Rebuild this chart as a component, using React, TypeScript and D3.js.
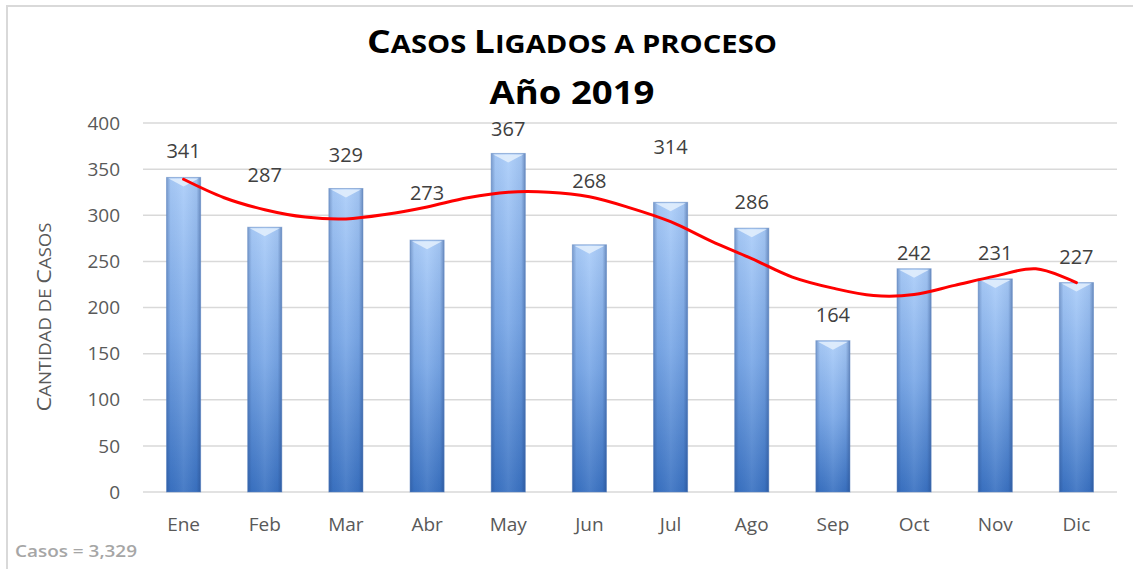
import React from "react";
import * as d3 from "d3";

const months = ["Ene", "Feb", "Mar", "Abr", "May", "Jun", "Jul", "Ago", "Sep", "Oct", "Nov", "Dic"];
const casos = [341, 287, 329, 273, 367, 268, 314, 286, 164, 242, 231, 227];
// trend line read at half-month steps (Ene, Ene½, Feb, ...)
const trend = [339, 319, 306, 298, 296, 301, 309, 319, 325, 325, 320, 308, 293, 272, 253, 233, 221, 213, 214, 224, 234, 242, 227];
const yTicks = [0, 50, 100, 150, 200, 250, 300, 350, 400];
const labelNudge = [0, -26, -7, -21, 2, -38, -29, 0, 0, 10, 0, 0];
const titleLine1 = "Casos Ligados a proceso";
const titleLine2 = "Año 2019";
const yTitle = "Cantidad de Casos";
const footer = "Casos = 3,329";

const W = 1133, H = 569;
const M = { left: 143, right: 1117, top: 123, bottom: 492 };

function smallCaps(s: string, big: number, small: number) {
  return s.split("").map((c, i) => {
    const isUpper = c !== " " && c === c.toUpperCase() && c !== c.toLowerCase();
    return (
      <tspan key={i} fontSize={isUpper ? big : small}>
        {c.toUpperCase()}
      </tspan>
    );
  });
}

export default function App() {
  const x = d3.scaleBand<string>().domain(months).range([M.left, M.right]).paddingInner(0.58).paddingOuter(0.29);
  const y = d3.scaleLinear().domain([0, 400]).range([M.bottom, M.top]);
  const xi = d3.scaleLinear().domain([0, months.length - 1]).range([
    (x(months[0]) as number) + x.bandwidth() / 2,
    (x(months[months.length - 1]) as number) + x.bandwidth() / 2,
  ]);
  const line = d3
    .line<number>()
    .x((_, i) => xi(i / 2))
    .y((d) => y(d))
    .curve(d3.curveCatmullRom.alpha(0.5));
  const bw = x.bandwidth();
  const font = "'Open Sans', 'DejaVu Sans', sans-serif";

  return (
    <svg width={W} height={H} style={{ position: "absolute", left: 0, top: 0 }} fontFamily={font}>
      <defs>
        <linearGradient id="barV" x1="0" y1="0" x2="0" y2="1">
          <stop offset="0" stopColor="#abcdf9" />
          <stop offset="0.5" stopColor="#7aa8e7" />
          <stop offset="1" stopColor="#3a72c2" />
        </linearGradient>
        <linearGradient id="barH" x1="0" y1="0" x2="1" y2="0">
          <stop offset="0" stopColor="#1f3f7a" stopOpacity="0.35" />
          <stop offset="0.12" stopColor="#1f3f7a" stopOpacity="0.05" />
          <stop offset="0.5" stopColor="#ffffff" stopOpacity="0.08" />
          <stop offset="0.88" stopColor="#1f3f7a" stopOpacity="0.08" />
          <stop offset="1" stopColor="#1f3f7a" stopOpacity="0.45" />
        </linearGradient>
      </defs>
      <rect x={7} y={6} width={W} height={H} fill="#fff" stroke="#d9d9d9" strokeWidth={2} />

      {/* gridlines */}
      {yTicks.map((t) => (
        <line key={t} x1={M.left} x2={M.right} y1={y(t)} y2={y(t)} stroke="#d9d9d9" strokeWidth={1.5} />
      ))}
      {yTicks.map((t) => (
        <text key={"l" + t} x={120} y={y(t)} dy="0.35em" textAnchor="end" fontSize={19} fill="#595959">
          {t}
        </text>
      ))}

      {/* bars */}
      {casos.map((v, i) => {
        const bx = x(months[i]) as number;
        const by = y(v);
        const bh = y(0) - by;
        return (
          <g key={months[i]}>
            <rect x={bx} y={by} width={bw} height={bh} fill="url(#barV)" />
            <rect x={bx} y={by} width={bw} height={bh} fill="url(#barH)" />
            <polygon
              points={`${bx + 2},${by + 1} ${bx + bw - 2},${by + 1} ${bx + bw / 2},${by + 9}`}
              fill="#e4f0fd"
              opacity={0.85}
            />
            <rect x={bx} y={by} width={bw} height={bh} fill="none" stroke="#5b84c0" strokeOpacity={0.5} strokeWidth={1} />
          </g>
        );
      })}

      {/* trend */}
      <path d={line(trend) as string} fill="none" stroke="#ff0000" strokeWidth={3} strokeLinejoin="round" strokeLinecap="round" />

      {/* data labels */}
      {casos.map((v, i) => (
        <text
          key={"d" + i}
          x={(x(months[i]) as number) + bw / 2}
          y={y(v) - 26 + labelNudge[i]}
          dy="0.35em"
          textAnchor="middle"
          fontSize={20}
          fill="#404040"
        >
          {v}
        </text>
      ))}

      {/* month labels */}
      {months.map((m) => (
        <text key={m} x={(x(m) as number) + bw / 2} y={524} dy="0.35em" textAnchor="middle" fontSize={19} fill="#595959">
          {m}
        </text>
      ))}

      {/* titles */}
      <text
        x={572}
        y={53}
        textAnchor="middle"
        fontWeight="bold"
        fill="#000"
        textLength={410}
        lengthAdjust="spacingAndGlyphs"
      >
        {smallCaps(titleLine1, 32, 25)}
      </text>
      <text x={572} y={104} textAnchor="middle" fontSize={33} fontWeight="bold" fill="#000" textLength={165} lengthAdjust="spacingAndGlyphs">
        {titleLine2}
      </text>

      <text
        transform={`translate(51,317) rotate(-90)`}
        textAnchor="middle"
        fill="#595959"
        textLength={189}
        lengthAdjust="spacingAndGlyphs"
      >
        {smallCaps(yTitle, 20, 16)}
      </text>

      <text x={15} y={557} fontSize={17} fontWeight={600} fill="#a6a6a6" textLength={122} lengthAdjust="spacingAndGlyphs">
        {footer}
      </text>
    </svg>
  );
}
